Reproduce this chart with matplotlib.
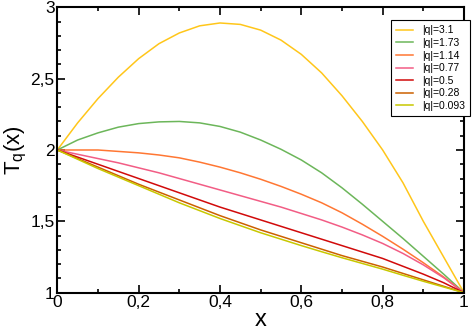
import matplotlib.pyplot as plt
from matplotlib.ticker import MultipleLocator, FuncFormatter

plt.rcParams['font.family'] = ['Liberation Sans', 'DejaVu Sans']

# x grid of the curves
x = [0, 0.05, 0.1, 0.15, 0.2, 0.25, 0.3, 0.35, 0.4, 0.45, 0.5,
     0.55, 0.6, 0.65, 0.7, 0.75, 0.8, 0.85, 0.9, 0.95, 1.0]

# T_q(x) for each |q|
t_31 = [2.0, 2.19, 2.36, 2.51, 2.64, 2.745, 2.82, 2.87, 2.89, 2.88, 2.84,
        2.77, 2.67, 2.54, 2.38, 2.2, 2.0, 1.77, 1.5, 1.25, 1.0]
t_173 = [2.0, 2.07, 2.12, 2.16, 2.185, 2.197, 2.2, 2.19, 2.165, 2.125, 2.07,
         2.005, 1.93, 1.84, 1.735, 1.62, 1.5, 1.38, 1.255, 1.13, 1.0]
t_114 = [2.0, 2.0, 2.0, 1.99, 1.98, 1.965, 1.945, 1.915, 1.88, 1.84, 1.795,
         1.745, 1.69, 1.63, 1.56, 1.48, 1.395, 1.305, 1.21, 1.11, 1.0]
t_077 = [2.0, 1.97, 1.94, 1.91, 1.875, 1.84, 1.80, 1.76, 1.72, 1.68, 1.64,
         1.60, 1.555, 1.51, 1.46, 1.405, 1.345, 1.275, 1.195, 1.105, 1.0]
t_05 = [2.0, 1.95, 1.9, 1.85, 1.8, 1.75, 1.7, 1.65, 1.6, 1.555, 1.51,
        1.465, 1.42, 1.375, 1.33, 1.285, 1.24, 1.185, 1.13, 1.07, 1.0]
t_028 = [2.0, 1.94, 1.88, 1.82, 1.76, 1.705, 1.65, 1.595, 1.54, 1.49, 1.44,
         1.395, 1.35, 1.305, 1.26, 1.22, 1.18, 1.135, 1.09, 1.045, 1.0]
t_0093 = [2.0, 1.935, 1.87, 1.81, 1.75, 1.69, 1.63, 1.575, 1.52, 1.47, 1.42,
          1.375, 1.33, 1.287, 1.245, 1.205, 1.165, 1.122, 1.08, 1.04, 1.0]

series = [t_31, t_173, t_114, t_077, t_05, t_028, t_0093]
labels = ['|q|=3.1', '|q|=1.73', '|q|=1.14', '|q|=0.77', '|q|=0.5', '|q|=0.28', '|q|=0.093']
colors = ['#ffc61a', '#6cb65a', '#ff7733', '#f25d85', '#d10a0a', '#cc6100', '#c8c800']

fig = plt.figure(figsize=(4.74, 3.31), dpi=100)
ax = fig.add_axes([0.1209, 0.1157, 0.858, 0.8623])

for y, lab, c in zip(series, labels, colors):
    ax.plot(x, y, color=c, lw=1.1, label=lab)

ax.set_xlim(0, 1)
ax.set_ylim(1, 3)
ax.xaxis.set_major_locator(MultipleLocator(0.2))
ax.xaxis.set_minor_locator(MultipleLocator(0.1))
ax.yaxis.set_major_locator(MultipleLocator(0.5))
ax.yaxis.set_minor_locator(MultipleLocator(0.1))
fmt = FuncFormatter(lambda v, p: ('%g' % round(v, 3)).replace('.', ','))
ax.xaxis.set_major_formatter(fmt)
ax.yaxis.set_major_formatter(fmt)
ax.tick_params(which='both', direction='in', top=True, right=True, width=1.2, labelsize=12.5)
ax.tick_params(which='major', length=6, pad=2)
ax.tick_params(which='minor', length=3)
for s in ax.spines.values():
    s.set_linewidth(1.5)

ax.set_xlabel('x', fontsize=17, labelpad=-1)
ax.set_ylabel('T$_\\mathregular{q}$(x)', fontsize=16, labelpad=1)

leg = ax.legend(loc='upper left', bbox_to_anchor=(0.8205, 0.955), fontsize=7.5,
                frameon=True, fancybox=False, edgecolor='black', framealpha=1,
                handlelength=1.6, handletextpad=0.9, labelspacing=0.25,
                borderpad=0.5, borderaxespad=0)
leg.get_frame().set_linewidth(0.8)

fig.savefig('out.png', dpi=100)
